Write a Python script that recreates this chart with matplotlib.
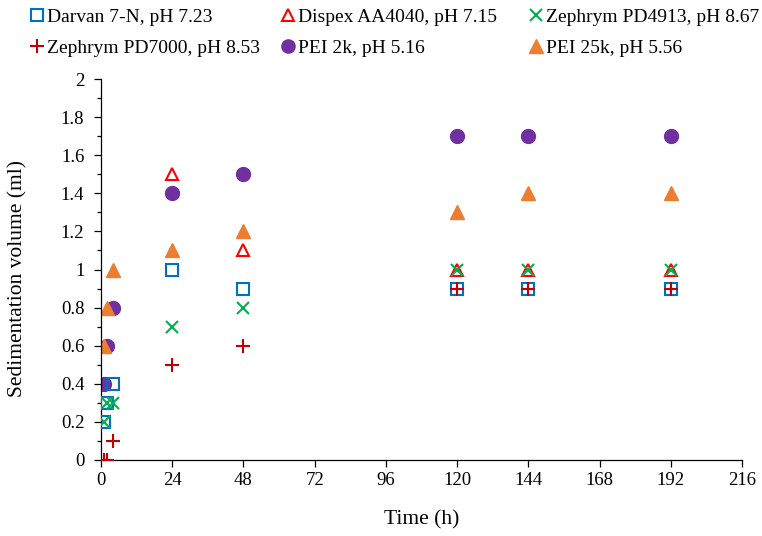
import matplotlib
matplotlib.use("Agg")
import matplotlib.pyplot as plt
from matplotlib.ticker import MultipleLocator, FuncFormatter

plt.rcParams['font.family'] = ['Liberation Serif', 'DejaVu Serif']

# Data
t_darvan = [1, 2, 4, 24, 48, 120, 144, 192]
v_darvan = [0.2, 0.3, 0.4, 1.0, 0.9, 0.9, 0.9, 0.9]
t_dispex = [24, 48, 120, 144, 192]
v_dispex = [1.5, 1.1, 1.0, 1.0, 1.0]
t_pd4913 = [1, 2, 4, 24, 48, 120, 144, 192]
v_pd4913 = [0.2, 0.3, 0.3, 0.7, 0.8, 1.0, 1.0, 1.0]
t_pd7000 = [1, 2, 4, 24, 48, 120, 144, 192]
v_pd7000 = [0.0, 0.0, 0.1, 0.5, 0.6, 0.9, 0.9, 0.9]
t_pei2k = [1, 2, 4, 24, 48, 120, 144, 192]
v_pei2k = [0.4, 0.6, 0.8, 1.4, 1.5, 1.7, 1.7, 1.7]
t_pei25k = [1, 2, 4, 24, 48, 120, 144, 192]
v_pei25k = [0.6, 0.8, 1.0, 1.1, 1.2, 1.3, 1.4, 1.4]

labels = ["Darvan 7-N, pH 7.23", "Dispex AA4040, pH 7.15", "Zephrym PD4913, pH 8.67",
          "Zephrym PD7000, pH 8.53", "PEI 2k, pH 5.16", "PEI 25k, pH 5.56"]

W, H = 762, 536
fig = plt.figure(figsize=(W/100, H/100), dpi=100)
ax = fig.add_axes([101/W, 1-460/H, (742-101)/W, (460-79)/H])

ms = 9
h0, = ax.plot(t_darvan, v_darvan, ls='none', marker='s', ms=ms, mfc='none', mec='#0070C0', mew=1.5, zorder=3)
h1, = ax.plot(t_dispex, v_dispex, ls='none', marker='^', ms=ms, mfc='none', mec='#FF0000', mew=1.5, zorder=3)
h2, = ax.plot(t_pd4913, v_pd4913, ls='none', marker='x', ms=ms, mec='#00B050', mew=1.5, zorder=4)
h3, = ax.plot(t_pd7000, v_pd7000, ls='none', marker='+', ms=ms+1, mec='#C00000', mew=1.5, zorder=4)
h4, = ax.plot(t_pei2k, v_pei2k, ls='none', marker='o', ms=ms+1, mfc='#7030A0', mec='#7030A0', zorder=2)
h5, = ax.plot(t_pei25k, v_pei25k, ls='none', marker='^', ms=ms+1, mfc='#ED7D31', mec='#ED7D31', zorder=2)

cols = [([h0, h3], [labels[0], labels[3]], 30),
        ([h1, h4], [labels[1], labels[4]], 281),
        ([h2, h5], [labels[2], labels[5]], 529)]
for hs, ls_, x0 in cols:
    leg = fig.legend(hs, ls_, loc='upper left', bbox_to_anchor=(x0/W, 1-8/H),
                     frameon=False, fontsize=14, handlelength=0.7, handletextpad=0.15,
                     labelspacing=0.7, borderaxespad=0, borderpad=0, markerscale=0.95)

ax.set_xlim(0, 216)
ax.set_ylim(0, 2)
ax.xaxis.set_major_locator(MultipleLocator(24))
ax.yaxis.set_major_locator(MultipleLocator(0.2))
ax.yaxis.set_minor_locator(MultipleLocator(0.1))
ax.yaxis.set_major_formatter(FuncFormatter(lambda v, p: f"{v:.1f}".rstrip('0').rstrip('.') if abs(v) > 1e-9 else "0"))
for s in ['top', 'right']:
    ax.spines[s].set_visible(False)
for s in ['left', 'bottom']:
    ax.spines[s].set_color('black')
    ax.spines[s].set_linewidth(0.9)
ax.tick_params(axis='both', which='major', direction='out', length=5, labelsize=13.5, width=0.9)
ax.tick_params(axis='y', which='major', pad=7)
ax.tick_params(axis='y', which='minor', direction='out', length=3, width=0.9)
ax.set_xlabel("Time (h)", fontsize=15.5, va='center', ha='center')
ax.set_ylabel("Sedimentation volume (ml)", fontsize=15.5, va='center', ha='center')
ax.xaxis.set_label_coords(0.5, (460-520)/381)
ax.yaxis.set_label_coords((18-101)/641, (460-278)/381)

fig.savefig("out.png", dpi=100)
